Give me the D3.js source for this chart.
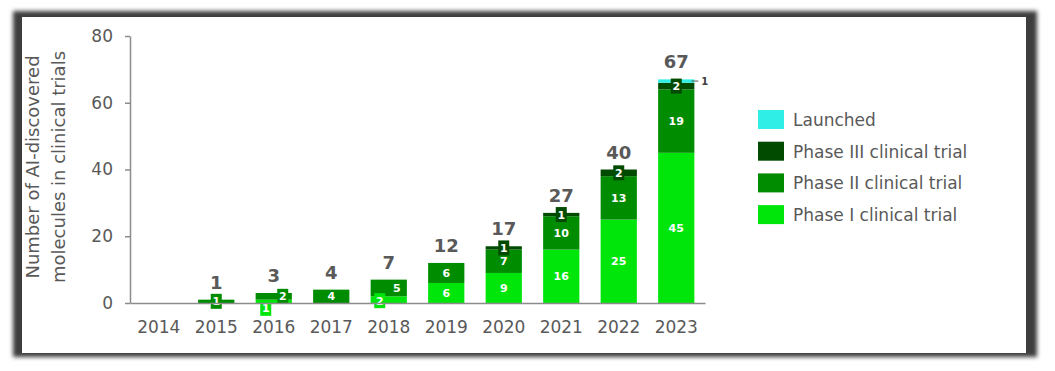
<!DOCTYPE html>
<html>
<head>
<meta charset="utf-8">
<script src="https://cdn.jsdelivr.net/npm/d3@7"></script>
<style>
	body { margin: 0; background: #fff; }
	svg text { font-family: "DejaVu Sans", sans-serif; }
	.axis path, .axis line { stroke: #8c8c8c; stroke-width: 1.5px; }
	.axis text { fill: #595959; font-size: 17px; }
</style>
</head>
<body>
<div id="chart"></div>
<script>
const years = ["2014", "2015", "2016", "2017", "2018", "2019", "2020", "2021", "2022", "2023"];
const phase1 = [0, 0, 1, 0, 2, 6, 9, 16, 25, 45];
const phase2 = [0, 1, 2, 4, 5, 6, 7, 10, 13, 19];
const phase3 = [0, 0, 0, 0, 0, 0, 1, 1, 2, 2];
const launched = [0, 0, 0, 0, 0, 0, 0, 0, 0, 1];
const seriesNames = ["Phase I clinical trial", "Phase II clinical trial", "Phase III clinical trial", "Launched"];
const yTicks = [0, 20, 40, 60, 80];

const width = 1055, height = 371;
const colors = {
	"Phase I clinical trial": "#00e60a",
	"Phase II clinical trial": "#008c00",
	"Phase III clinical trial": "#004b00",
	"Launched": "#2eeee6"
};
// small boxed labels that were pushed aside in the original so they don't overlap
const nudge = {
	"2016|Phase I clinical trial": [-8, 7],
	"2016|Phase II clinical trial": [9, 0],
	"2018|Phase I clinical trial": [-9, 1],
	"2018|Phase II clinical trial": [8, 0]
};

const rows = years.map(function (y, i) {
	return {
		year: y,
		"Phase I clinical trial": phase1[i],
		"Phase II clinical trial": phase2[i],
		"Phase III clinical trial": phase3[i],
		"Launched": launched[i]
	};
});
const totals = years.map(function (y, i) { return phase1[i] + phase2[i] + phase3[i] + launched[i]; });

const svg = d3.select("#chart").append("svg")
	.attr("width", width)
	.attr("height", height);

/* frame with the dark blurred shadow */
const defs = svg.append("defs");
defs.append("filter").attr("id", "blur")
	.attr("x", "-5%").attr("y", "-10%").attr("width", "110%").attr("height", "120%")
	.append("feGaussianBlur").attr("stdDeviation", 2);
svg.append("rect")
	.attr("x", 13).attr("y", 11).attr("width", 1024).attr("height", 346)
	.attr("fill", "#3c3c3c").attr("filter", "url(#blur)");
svg.append("rect")
	.attr("x", 22).attr("y", 17).attr("width", 1004).attr("height", 336)
	.attr("fill", "#fff");

const x = d3.scaleBand()
	.domain(years)
	.range([130, 705])
	.paddingInner(0.37)
	.paddingOuter(0.185);
const y = d3.scaleLinear()
	.domain([0, 80])
	.range([303, 36]);

const stack = d3.stack().keys(seriesNames);
const layers = stack(rows);

/* bars */
const g = svg.append("g");
layers.forEach(function (layer) {
	g.selectAll(null)
		.data(layer.filter(function (d) { return d[1] > d[0]; }))
		.enter().append("rect")
		.attr("x", function (d) { return x(d.data.year); })
		.attr("y", function (d) { return y(d[1]); })
		.attr("width", x.bandwidth())
		.attr("height", function (d) { return y(d[0]) - y(d[1]); })
		.attr("fill", colors[layer.key]);
});

/* axes */
svg.append("g")
	.attr("class", "axis")
	.attr("transform", "translate(130,0)")
	.call(d3.axisLeft(y).tickValues(yTicks).tickSize(5).tickSizeOuter(0).tickPadding(12));
svg.append("g")
	.attr("class", "axis")
	.attr("transform", "translate(0,303)")
	.call(d3.axisBottom(x).tickSize(0).tickPadding(18));

/* segment labels */
layers.forEach(function (layer) {
	layer.forEach(function (d) {
		const v = d[1] - d[0];
		if (v <= 0) return;
		const key = d.data.year + "|" + layer.key;
		const off = nudge[key] || [0, 0];
		const cx = x(d.data.year) + x.bandwidth() / 2 + off[0];
		const cy = y((d[0] + d[1]) / 2) + off[1];
		if (layer.key === "Launched") {
			const right = x(d.data.year) + x.bandwidth();
			g.append("line")
				.attr("x1", right - 3).attr("x2", right + 4)
				.attr("y1", cy).attr("y2", cy)
				.attr("stroke", "#595959").attr("stroke-width", 1);
			g.append("text")
				.attr("x", right + 7).attr("y", cy + 4)
				.attr("font-size", 10).attr("font-weight", "bold")
				.attr("fill", "#404040")
				.text(v);
			return;
		}
		if (v <= 2) {
			g.append("rect")
				.attr("x", cx - 5.5).attr("y", cy - 7.5)
				.attr("width", 11).attr("height", 15)
				.attr("fill", colors[layer.key]);
		}
		g.append("text")
			.attr("x", cx).attr("y", cy + 4)
			.attr("text-anchor", "middle")
			.attr("font-family", "'DejaVu Sans Condensed', 'DejaVu Sans', sans-serif")
			.attr("font-size", 11).attr("font-weight", "bold")
			.attr("fill", "#fff")
			.text(v);
	});
});

/* totals above the bars */
g.selectAll(".total")
	.data(years.filter(function (yr, i) { return totals[i] > 0; }))
	.enter().append("text")
	.attr("class", "total")
	.attr("x", function (d) { return x(d) + x.bandwidth() / 2; })
	.attr("y", function (d) { return y(totals[years.indexOf(d)]) - 11; })
	.attr("text-anchor", "middle")
	.attr("font-size", 18).attr("font-weight", "bold")
	.attr("fill", "#595959")
	.text(function (d) { return totals[years.indexOf(d)]; });

/* y axis title */
svg.append("text")
	.attr("transform", "translate(39,167) rotate(-90)")
	.attr("text-anchor", "middle")
	.attr("font-size", 18).attr("fill", "#595959")
	.selectAll("tspan")
	.data(["Number of AI-discovered", "molecules in clinical trials"])
	.enter().append("tspan")
	.attr("x", 0)
	.attr("dy", function (d, i) { return i === 0 ? 0 : 26; })
	.text(function (d) { return d; });

/* legend */
const legend = svg.append("g").attr("transform", "translate(758,110)");
const legendItems = seriesNames.slice().reverse();
const li = legend.selectAll("g")
	.data(legendItems)
	.enter().append("g")
	.attr("transform", function (d, i) { return "translate(0," + (i * 31.7) + ")"; });
li.append("rect")
	.attr("width", 26).attr("height", 19)
	.attr("fill", function (d) { return colors[d]; });
li.append("text")
	.attr("x", 35).attr("y", 16)
	.attr("font-size", 17).attr("fill", "#595959")
	.text(function (d) { return d; });
</script>
</body>
</html>
